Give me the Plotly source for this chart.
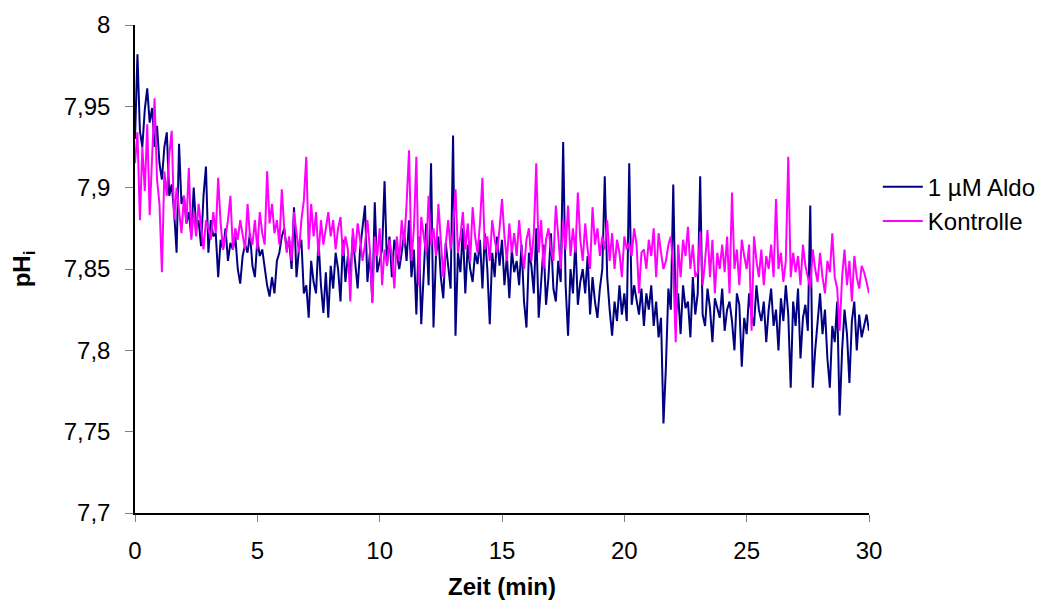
import plotly.graph_objects as go

# time axis: 0 .. 30 min in 0.1 min steps
time_min = [round(i * 0.1, 1) for i in range(301)]

aldo = [
    7.930, 7.982, 7.935, 7.925, 7.948, 7.961, 7.940, 7.949, 7.925, 7.938,
    7.915, 7.905, 7.925, 7.934, 7.895, 7.902, 7.885, 7.860, 7.927, 7.890,
    7.895, 7.878, 7.885, 7.870, 7.900, 7.875, 7.880, 7.864, 7.895, 7.913,
    7.860, 7.880, 7.870, 7.872, 7.845, 7.868, 7.862, 7.875, 7.855, 7.866,
    7.862, 7.870, 7.850, 7.841, 7.858, 7.865, 7.860, 7.872, 7.852, 7.845,
    7.868, 7.858, 7.862, 7.850, 7.840, 7.833, 7.845, 7.835, 7.855, 7.860,
    7.870, 7.875, 7.862, 7.868, 7.850, 7.888, 7.845, 7.862, 7.868, 7.835,
    7.840, 7.820, 7.855, 7.842, 7.835, 7.868, 7.840, 7.823, 7.848, 7.820,
    7.852, 7.838, 7.860, 7.850, 7.830, 7.868, 7.842, 7.858, 7.845, 7.870,
    7.852, 7.838, 7.862, 7.875, 7.889, 7.842, 7.860, 7.830, 7.891, 7.848,
    7.855, 7.862, 7.904, 7.852, 7.870, 7.845, 7.868, 7.858, 7.850, 7.860,
    7.872, 7.855, 7.880, 7.845, 7.862, 7.822, 7.870, 7.816, 7.850, 7.878,
    7.840, 7.915, 7.814, 7.858, 7.870, 7.845, 7.832, 7.866, 7.852, 7.838,
    7.932, 7.809, 7.860, 7.848, 7.875, 7.835, 7.865, 7.850, 7.842, 7.860,
    7.853, 7.868, 7.838, 7.872, 7.850, 7.816, 7.860, 7.845, 7.870, 7.852,
    7.868, 7.840, 7.858, 7.832, 7.862, 7.848, 7.855, 7.840, 7.865, 7.830,
    7.814, 7.860, 7.852, 7.835, 7.875, 7.820, 7.842, 7.865, 7.828, 7.845,
    7.872, 7.838, 7.830, 7.855, 7.842, 7.928, 7.840, 7.809, 7.850, 7.835,
    7.868, 7.828, 7.842, 7.850, 7.835, 7.858, 7.822, 7.845, 7.830, 7.820,
    7.838, 7.850, 7.907, 7.845, 7.825, 7.809, 7.830, 7.818, 7.840, 7.822,
    7.835, 7.818, 7.915, 7.828, 7.840, 7.832, 7.822, 7.838, 7.815, 7.835,
    7.825, 7.840, 7.815, 7.830, 7.808, 7.820, 7.755, 7.790, 7.838, 7.825,
    7.902, 7.820, 7.835, 7.810, 7.840, 7.826, 7.830, 7.808, 7.845, 7.822,
    7.835, 7.907, 7.822, 7.815, 7.838, 7.826, 7.805, 7.832, 7.825, 7.820,
    7.838, 7.812, 7.825, 7.830, 7.818, 7.800, 7.835, 7.828, 7.790, 7.820,
    7.810, 7.835, 7.822, 7.815, 7.840, 7.825, 7.818, 7.830, 7.805, 7.825,
    7.838, 7.815, 7.825, 7.800, 7.832, 7.818, 7.840, 7.822, 7.777, 7.830,
    7.815, 7.838, 7.795, 7.820, 7.828, 7.812, 7.889, 7.777, 7.800, 7.818,
    7.835, 7.810, 7.825, 7.795, 7.777, 7.815, 7.805, 7.830, 7.760, 7.800,
    7.825, 7.810, 7.780, 7.818, 7.830, 7.800, 7.822, 7.808, 7.815, 7.822,
    7.812,
]

kontrolle = [
    7.915, 7.934, 7.880, 7.925, 7.898, 7.939, 7.883, 7.920, 7.955, 7.905,
    7.890, 7.848, 7.910, 7.895, 7.920, 7.935, 7.880, 7.900, 7.885, 7.872,
    7.895, 7.878, 7.912, 7.868, 7.885, 7.870, 7.890, 7.876, 7.862, 7.880,
    7.875, 7.868, 7.885, 7.872, 7.906, 7.878, 7.862, 7.870, 7.880, 7.895,
    7.862, 7.875, 7.868, 7.880, 7.872, 7.862, 7.890, 7.870, 7.865, 7.880,
    7.862, 7.885, 7.872, 7.865, 7.910, 7.878, 7.890, 7.872, 7.880, 7.865,
    7.899, 7.875, 7.860, 7.870, 7.855, 7.885, 7.872, 7.860, 7.880, 7.892,
    7.919, 7.862, 7.890, 7.870, 7.885, 7.858, 7.880, 7.865, 7.875, 7.885,
    7.870, 7.880, 7.862, 7.875, 7.882, 7.858, 7.870, 7.862, 7.830, 7.875,
    7.860, 7.878, 7.868, 7.855, 7.865, 7.880, 7.862, 7.829, 7.870, 7.858,
    7.875, 7.840, 7.862, 7.852, 7.868, 7.858, 7.838, 7.870, 7.855, 7.880,
    7.865, 7.890, 7.923, 7.855, 7.875, 7.919, 7.840, 7.882, 7.870, 7.860,
    7.895, 7.865, 7.875, 7.858, 7.890, 7.870, 7.845, 7.865, 7.880, 7.862,
    7.875, 7.899, 7.860, 7.870, 7.885, 7.862, 7.878, 7.855, 7.888, 7.870,
    7.860, 7.878, 7.906, 7.862, 7.870, 7.855, 7.880, 7.868, 7.860, 7.875,
    7.893, 7.870, 7.855, 7.878, 7.860, 7.872, 7.858, 7.880, 7.862, 7.850,
    7.868, 7.875, 7.855, 7.872, 7.915, 7.860, 7.880, 7.850, 7.868, 7.875,
    7.862, 7.855, 7.889, 7.870, 7.850, 7.880, 7.862, 7.889, 7.858, 7.875,
    7.860, 7.897, 7.868, 7.855, 7.878, 7.862, 7.850, 7.888, 7.865, 7.875,
    7.858, 7.870, 7.862, 7.880, 7.855, 7.872, 7.850, 7.868, 7.860, 7.845,
    7.870, 7.862, 7.866, 7.858, 7.875, 7.865, 7.835, 7.860, 7.862, 7.850,
    7.868, 7.858, 7.875, 7.845, 7.872, 7.860, 7.850, 7.855, 7.865, 7.870,
    7.850, 7.805, 7.865, 7.845, 7.868, 7.858, 7.876, 7.850, 7.865, 7.845,
    7.848, 7.873, 7.840, 7.855, 7.874, 7.845, 7.868, 7.835, 7.860, 7.850,
    7.865, 7.848, 7.870, 7.835, 7.897, 7.850, 7.862, 7.840, 7.868, 7.858,
    7.850, 7.865, 7.812, 7.870, 7.855, 7.845, 7.862, 7.840, 7.858, 7.850,
    7.865, 7.845, 7.893, 7.850, 7.860, 7.842, 7.855, 7.919, 7.845, 7.860,
    7.848, 7.858, 7.840, 7.865, 7.852, 7.845, 7.838, 7.862, 7.850, 7.842,
    7.860, 7.845, 7.835, 7.855, 7.848, 7.872, 7.845, 7.838, 7.812, 7.845,
    7.862, 7.840, 7.855, 7.830, 7.858, 7.845, 7.838, 7.852, 7.848, 7.842,
    7.835,
]

y_ticks = [7.7, 7.75, 7.8, 7.85, 7.9, 7.95, 8.0]
y_tick_labels = ["7,7", "7,75", "7,8", "7,85", "7,9", "7,95", "8"]
x_ticks = [0, 5, 10, 15, 20, 25, 30]

font_family = "Liberation Sans, Arial, sans-serif"

fig = go.Figure()
fig.add_trace(go.Scatter(x=time_min, y=aldo, mode="lines", name="1 µM Aldo",
                         line=dict(color="#000080", width=2)))
fig.add_trace(go.Scatter(x=time_min, y=kontrolle, mode="lines", name="Kontrolle",
                         line=dict(color="#FF00FF", width=2)))

fig.update_layout(
    width=1045, height=593,
    margin=dict(l=127, r=184, t=17, b=88, autoexpand=False),
    paper_bgcolor="white", plot_bgcolor="white",
    font=dict(family=font_family, size=24, color="black"),
    showlegend=True,
    legend=dict(x=1.012, y=0.633, xanchor="left", yanchor="middle",
                font=dict(size=24), tracegroupgap=0, itemwidth=40,
                bgcolor="rgba(0,0,0,0)"),
    xaxis=dict(range=[0, 30], tickvals=x_ticks, ticks="outside", ticklen=7,
               tickcolor="#808080", showline=True, linecolor="black", linewidth=1.5,
               showgrid=False, zeroline=False, ticklabelstandoff=8,
               tickfont=dict(size=24), automargin=False,
               title=dict(text="<b>Zeit (min)</b>", font=dict(size=24), standoff=16)),
    yaxis=dict(range=[7.7, 8.0], tickvals=y_ticks, ticktext=y_tick_labels,
               ticks="outside", ticklen=8, tickcolor="#808080",
               showline=True, linecolor="black", linewidth=1.5,
               showgrid=False, zeroline=False, ticklabelstandoff=10,
               tickfont=dict(size=24), automargin=False,
               title=dict(text="<b>pH<sub>i</sub></b>", font=dict(size=24), standoff=26)),
)

fig.write_html("out.html")
